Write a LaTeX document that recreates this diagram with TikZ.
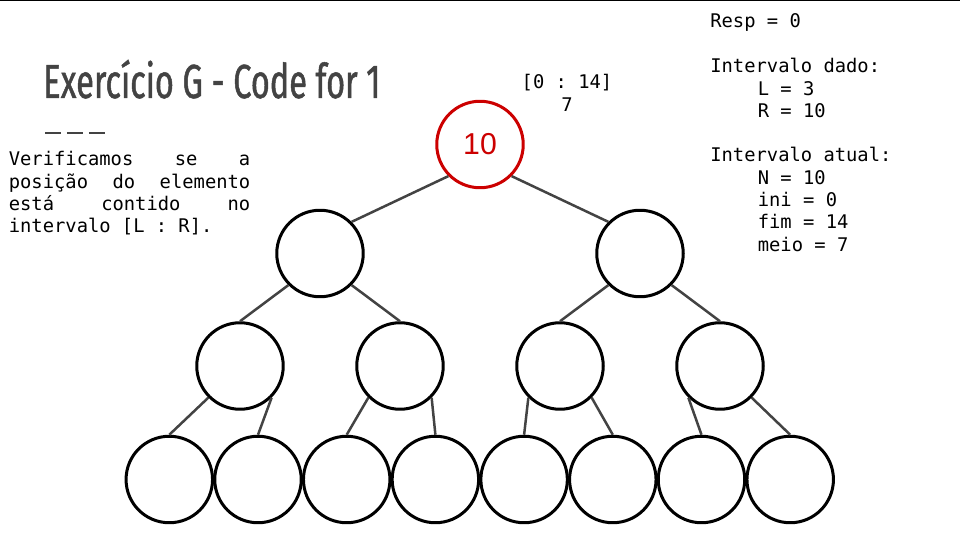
\documentclass[tikz,border=0pt]{standalone}
\usepackage{fontspec}
\usepackage[HTML]{xcolor}
\usepackage{tikz}
\usetikzlibrary{positioning}
\setmonofont{DejaVu Sans Mono}
\newfontfamily\titlefont[FakeStretch=0.68, FakeBold=1]{Fira Sans}
\newfontfamily\keyfont{Liberation Sans}
\definecolor{slidegray}{HTML}{434343}
\definecolor{keyred}{HTML}{CC0000}

\begin{document}
\begin{tikzpicture}[x=0.02cm, y=-0.02cm,
  heapnode/.style={circle, draw=black, line width=0.06cm, minimum size=1.73cm, inner sep=0pt},
  keynode/.style={heapnode, draw=keyred, text=keyred, font=\keyfont\fontsize{17.2}{20}\selectfont},
  heapedge/.style={draw=slidegray, line width=0.05cm},
  monotext/.style={font=\ttfamily\fontsize{10.7}{12.75}\selectfont, inner sep=0pt}]
\useasboundingbox (0,0) rectangle (960,540);
% slide border
\draw[line width=0.03cm] (0,0.75) -- (960,0.75);

% title and text on the left
\node[anchor=base west, inner sep=0pt, text=slidegray, font=\titlefont\fontsize{27.2}{30}\selectfont] (title) at (43,98) {Exercício G - Code for 1};
\draw[slidegray, line width=0.04cm, dash pattern=on 0.32cm off 0.12cm] (45,133.5) -- (105,133.5);
\node[monotext, anchor=base west, text width=4.83cm, align=justify] (desc) at (8.5,165.7) {\spaceskip=0.6em plus 1fil\relax
Verificamos se a\linebreak posição do elemento\linebreak está contido no\linebreak \mbox{intervalo [L : R].}};

% state on the right
\node[monotext, anchor=base west, text width=5cm, align=flush left] (resp) at (710,27.3) {Resp = 0};
\node[monotext, anchor=base west, text width=5cm, align=flush left] (dado) at (710,72.7) {Intervalo dado:\\\hspace*{0.95cm}L = 3\\\hspace*{0.95cm}R = 10};
\node[monotext, anchor=base west, text width=5cm, align=flush left] (atual) at (710,161.7) {Intervalo atual:\\\hspace*{0.95cm}N = 10\\\hspace*{0.95cm}ini = 0\\\hspace*{0.95cm}fim = 14\\\hspace*{0.95cm}meio = 7};

% range of the root
\node[monotext, anchor=base, text width=2cm, align=flush center] (range) at (567,89) {[0 : 14]\\7};

% tree: root
\node[keynode] (n1) at (480,144.5) {10};
% tree: level 1
\node[heapnode] (n2) at (320,253.5) {};
\node[heapnode] (n3) at (640,253.5) {};
% tree: level 2
\node[heapnode] (n4) at (240,366) {};
\node[heapnode] (n5) at (400,366) {};
\node[heapnode] (n6) at (560,366) {};
\node[heapnode] (n7) at (720,366) {};
% tree: leaves
\node[heapnode] (n8) at (169.3,479.5) {};
\node[heapnode] (n9) at (258,479.5) {};
\node[heapnode] (n10) at (346.7,479.5) {};
\node[heapnode] (n11) at (435.4,479.5) {};
\node[heapnode] (n12) at (524.1,479.5) {};
\node[heapnode] (n13) at (612.8,479.5) {};
\node[heapnode] (n14) at (701.5,479.5) {};
\node[heapnode] (n15) at (790.2,479.5) {};

% tree: edges
\draw[heapedge] (n1.south west) -- (n2.north east);\draw[heapedge] (n1.south east) -- (n3.north west);
\draw[heapedge] (n2.south west) -- (n4.north);\draw[heapedge] (n2.south east) -- (n5.north);
\draw[heapedge] (n3.south west) -- (n6.north);\draw[heapedge] (n3.south east) -- (n7.north);
\draw[heapedge] (n4.south west) -- (n8.north);\draw[heapedge] (n4.south east) -- (n9.north);
\draw[heapedge] (n5.south west) -- (n10.north);\draw[heapedge] (n5.south east) -- (n11.north);
\draw[heapedge] (n6.south west) -- (n12.north);\draw[heapedge] (n6.south east) -- (n13.north);
\draw[heapedge] (n7.south west) -- (n14.north);\draw[heapedge] (n7.south east) -- (n15.north);
\end{tikzpicture}
\end{document}
